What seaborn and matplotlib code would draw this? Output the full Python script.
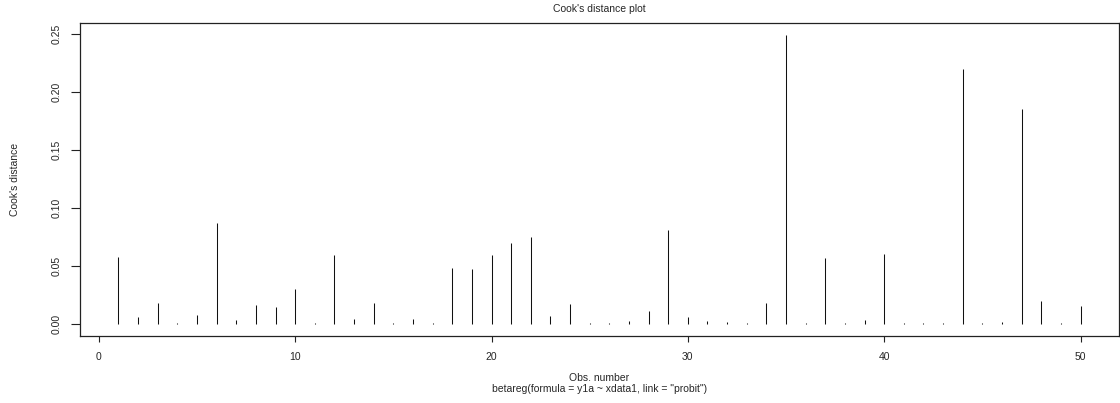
import matplotlib
matplotlib.use("Agg")
import matplotlib.pyplot as plt
import numpy as np
import pandas as pd
import seaborn as sns

# Cook's distance per observation of the beta regression fit
obs = list(range(1, 51))
cooks = [
    0.0578, 0.0060, 0.0184, 0.0009, 0.0075, 0.0870, 0.0032, 0.0164, 0.0149, 0.0302,
    0.0009, 0.0592, 0.0040, 0.0178, 0.0009, 0.0040, 0.0006, 0.0486, 0.0477, 0.0592,
    0.0698, 0.0750, 0.0072, 0.0175, 0.0006, 0.0006, 0.0023, 0.0109, 0.0808, 0.0060,
    0.0029, 0.0014, 0.0006, 0.0184, 0.2491, 0.0006, 0.0572, 0.0009, 0.0034, 0.0606,
    0.0006, 0.0006, 0.0006, 0.2196, 0.0006, 0.0020, 0.1851, 0.0195, 0.0006, 0.0158,
]
x_ticks = [0, 10, 20, 30, 40, 50]
y_ticks = [0.00, 0.05, 0.10, 0.15, 0.20, 0.25]

title = "Cook's distance plot"
x_label = "Obs. number"
sub_label = 'betareg(formula = y1a ~ xdata1, link = "probit")'
y_label = "Cook's distance"

df = pd.DataFrame({"obs": obs, "cooks": cooks})

sns.set_style("white")
plt.rcParams["font.family"] = ["Liberation Sans", "DejaVu Sans"]
fs = 7.5

W, H = 1120, 403
fig = plt.figure(figsize=(W / 100, H / 100), dpi=100)
ax = fig.add_axes([80 / W, (H - 336) / H, (1119 - 80) / W, (336 - 23) / H])

# needle-style bars ("type = h"): hairline bars drawn by their outline
sns.barplot(data=df, x="obs", y="cooks", native_scale=True, width=0.001,
            color="black", saturation=1, errorbar=None, linewidth=0.75,
            edgecolor="#111111", ax=ax)

ax.set_xlim(-0.96, 51.96)
ax.set_ylim(-0.0104, 0.2595)
ax.set_xticks(x_ticks)
ax.set_xticklabels([str(t) for t in x_ticks], fontsize=fs)
ax.set_yticks(y_ticks)
ax.set_yticklabels([f"{t:.2f}" for t in y_ticks], fontsize=fs, rotation=90,
                   va="center")
ax.tick_params(axis="x", direction="out", length=4.3, width=0.8, pad=7.5,
               color="#222222", bottom=True)
ax.tick_params(axis="y", direction="out", length=6.5, width=0.8, pad=6.5,
               color="#222222", left=True)
ax.set_xlabel("")
ax.set_ylabel("")
for s in ax.spines.values():
    s.set_visible(True)
    s.set_color("#222222")
    s.set_linewidth(0.9)

fig.text(599.5 / W, 1 - 9 / H, title, ha="center", va="center", fontsize=fs)
fig.text(599.5 / W, 1 - 378 / H, x_label, ha="center", va="center", fontsize=fs)
fig.text(599.5 / W, 1 - 389 / H, sub_label, ha="center", va="center", fontsize=fs)
fig.text(15 / W, 1 - 179 / H, y_label, ha="center", va="center", rotation=90,
         fontsize=fs)

fig.savefig("out.png", dpi=100)
